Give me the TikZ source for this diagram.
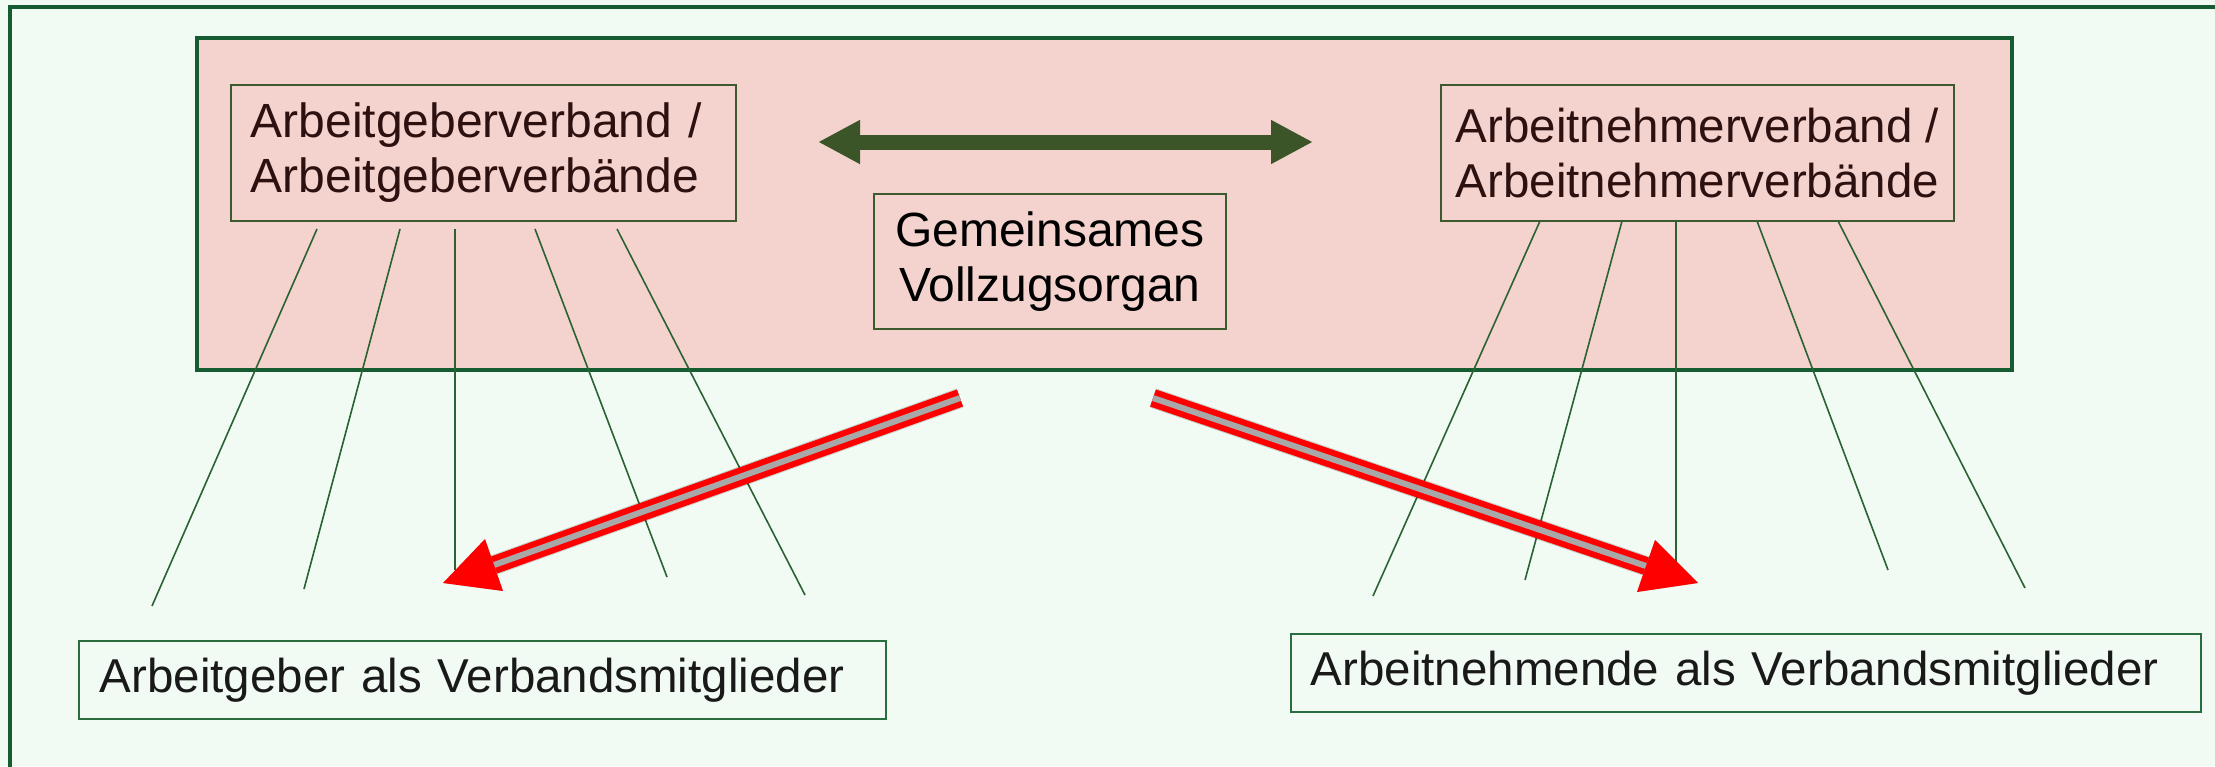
\documentclass[tikz,border=0pt]{standalone}
\usepackage{fontspec}
\setmainfont{Liberation Sans}
\usetikzlibrary{arrows.meta}
\definecolor{bgc}{HTML}{F1FBF4}
\definecolor{frame}{HTML}{165C31}
\definecolor{pinkc}{HTML}{F4D3CE}
\definecolor{boxline}{HTML}{3B5A2E}
\definecolor{darkarrow}{HTML}{3B5428}
\definecolor{toptext}{HTML}{2D1010}
\definecolor{rayc}{HTML}{2B6234}
\definecolor{lowbox}{HTML}{2A6E3F}
\definecolor{redc}{HTML}{FF0000}
\definecolor{greyc}{HTML}{A8A8A8}
\tikzset{
  x=1pt, y=-1pt,
  topbox/.style={draw=boxline, line width=1.6pt, anchor=north west, inner xsep=20pt, align=left,
     text=toptext, font=\fontsize{48}{55}\selectfont, minimum height=136pt},
  midbox/.style={draw=boxline, line width=1.6pt, anchor=north west, align=center,
     text=black, font=\fontsize{48}{55}\selectfont, minimum width=352pt, minimum height=135pt},
  lowboxs/.style={draw=lowbox, line width=1.6pt, anchor=north west, inner xsep=21pt,
     text=black!90, font=\fontsize{47.5}{52}\selectfont, minimum height=78pt},
  ray/.style={draw=rayc, line width=1.6pt},
  redshaft/.style={draw=redc, line width=6pt, double=greyc, double distance=6pt},
  redshadow/.style={draw=black, opacity=0.18, line width=20pt},
}
\begin{document}
\begin{tikzpicture}
\useasboundingbox (0,0) rectangle (2215,766);
% outer frame (runs beyond right and bottom edges)
\fill[bgc] (0,0) rectangle (2215,766);
\draw[frame, line width=4pt] (10,7) rectangle (2240,790);
% association frame
\node[draw=frame, line width=4pt, fill=pinkc, anchor=north west, minimum width=1815pt,
      minimum height=332pt, inner sep=0pt] (verb) at (195,36) {};
% boxes
\node[topbox, text width=465pt] (ag) at (230,84) {Arbeitgeberverband /\\Arbeitgeberverbände};
\node[topbox, minimum width=512pt, inner xsep=15pt, font=\fontsize{47.5}{55}\selectfont] (an) at (1440,84) {Arbeitnehmerverband /\\Arbeitnehmerverbände};
\node[midbox] (vz) at (873,193) {Gemeinsames\\Vollzugsorgan};
\node[lowboxs, minimum width=807pt, text width=765pt, align=left] (agm) at (78,640) {Arbeitgeber als Verbandsmitglieder};
\node[lowboxs, minimum width=910pt, text width=870pt, align=left, inner xsep=20pt] (anm) at (1290,633) {Arbeitnehmende als Verbandsmitglieder};
% double arrow between associations
\coordinate (dl) at (818,142);
\coordinate (dr) at (1313,142);
\draw[darkarrow, line width=15pt, {Triangle[length=42pt,width=41pt]}-{Triangle[length=42pt,width=41pt]}] (dl) -- (dr);
% rays from employer association
\coordinate (a1s) at (317,229); \coordinate (a1e) at (152,606);
\coordinate (a2s) at (400,229); \coordinate (a2e) at (304,589);
\coordinate (a3s) at (455,229); \coordinate (a3e) at (455,570);
\coordinate (a4s) at (535,229); \coordinate (a4e) at (667,577);
\coordinate (a5s) at (617,229); \coordinate (a5e) at (805,595);
\foreach \i in {1,...,5} \draw[ray] (a\i s) -- (a\i e);
% rays from employee association
\coordinate (b1s) at (1540,221); \coordinate (b1e) at (1373,596);
\coordinate (b2s) at (1622,221); \coordinate (b2e) at (1525,580);
\coordinate (b3s) at (1676,221); \coordinate (b3e) at (1676,565);
\coordinate (b4s) at (1757,221); \coordinate (b4e) at (1888,570);
\coordinate (b5s) at (1838,221); \coordinate (b5e) at (2025,588);
\foreach \i in {1,...,5} \draw[ray] (b\i s) -- (b\i e);
% red arrows
\coordinate (rls) at (960,398); \coordinate (rlb) at (494,565);
\coordinate (rlt) at (443,583); \coordinate (rl1) at (485,539); \coordinate (rl2) at (503,591);
\coordinate (rrs) at (1153,398); \coordinate (rrb) at (1646,566);
\coordinate (rrt) at (1698,583); \coordinate (rr1) at (1655,540); \coordinate (rr2) at (1637,592);
\begin{scope}[shift={(3,6)}]
  \draw[redshadow] (rls) -- (rlb);
  \fill[black, opacity=0.18] (rlt) -- (rl1) -- (rl2) -- cycle;
  \draw[redshadow] (rrs) -- (rrb);
  \fill[black, opacity=0.18] (rrt) -- (rr1) -- (rr2) -- cycle;
\end{scope}
\draw[redshaft] (rls) -- (rlb);
\fill[redc] (rlt) -- (rl1) -- (rl2) -- cycle;
\draw[redshaft] (rrs) -- (rrb);
\fill[redc] (rrt) -- (rr1) -- (rr2) -- cycle;
\end{tikzpicture}
\end{document}
